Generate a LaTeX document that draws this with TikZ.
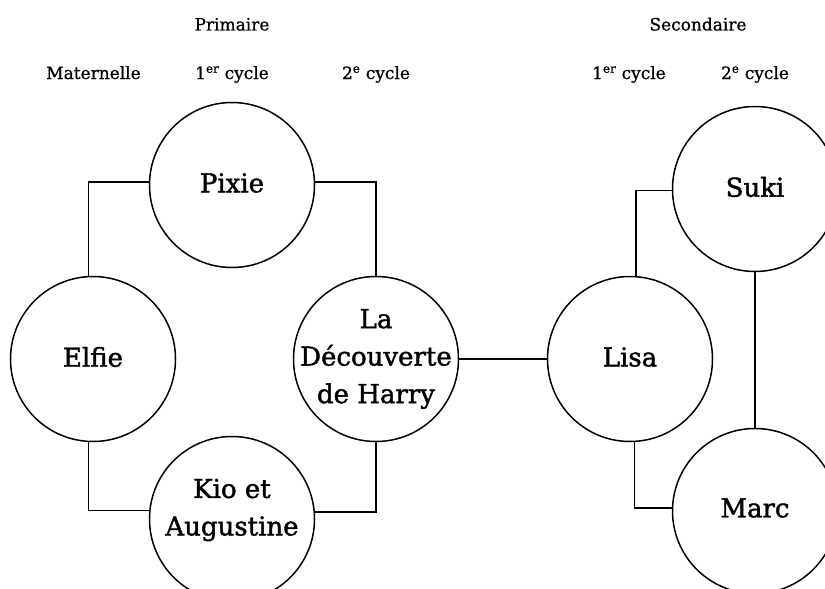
\documentclass[tikz,border=0pt]{standalone}
\usepackage{fontspec}
\setmainfont{DejaVu Serif}
\newfontfamily\heavyserif[FakeBold=1.5]{DejaVu Serif}
\newfontfamily\headserif[FakeBold=0.8]{DejaVu Serif}
\begin{document}
\begin{tikzpicture}[x=1pt,y=-1pt,
  book/.style={circle,draw,line width=1.5pt,minimum size=165pt,inner sep=0pt},
  booktext/.style={align=center,inner sep=0pt,font=\heavyserif\fontsize{26}{37.5}\selectfont},
  head/.style={anchor=base,inner sep=0pt,font=\headserif\fontsize{17}{20}\selectfont},
  link/.style={line width=1.5pt}]
\clip (0,0) rectangle (825,589);
% headings
\node[head] (prim) at (232,30.5) {Primaire};
\node[head] (sec) at (698,30.5) {Secondaire};
\node[head] (mat) at (93.5,79) {Maternelle};
\node[head] (p1) at (232,79) {1\textsuperscript{er} cycle};
\node[head] (p2) at (376,79) {2\textsuperscript{e} cycle};
\node[head] (s1) at (629,79) {1\textsuperscript{er} cycle};
\node[head] (s2) at (755,79) {2\textsuperscript{e} cycle};
% circles
\node[book] (pixie) at (232,185) {};
\node[book] (elfie) at (93,359) {};
\node[book] (kio) at (232,519) {};
\node[book] (decouv) at (376,359) {};
\node[book] (lisa) at (630,359) {};
\node[book] (suki) at (755,189) {};
\node[book] (marc) at (755,511) {};
% texts
\node[booktext] (pixietext) at (232,183) {Pixie};
\node[booktext] (elfietext) at (93,357) {Elfie};
\node[booktext] (kiotext) at (232,510) {Kio et\\Augustine};
\node[booktext] (decouvtext) at (376,359) {La\\Découverte\\de Harry};
\node[booktext] (lisatext) at (630,357) {Lisa};
\node[booktext] (sukitext) at (755,187) {Suki};
\node[booktext] (marctext) at (755,508) {Marc};
% connectors
\draw[link] (elfie.93) |- (pixie.178);
\draw[link] (pixie.2) -| (decouv.north);
\draw[link] (elfie.267) |- (kio.174.5);
\draw[link] (kio.5.5) -| (decouv.south);
\draw[link] (decouv.east) -- (lisa.west);
\draw[link] (lisa.86.5) |- (suki.181.5);
\draw[link] (lisa.273.5) |- (marc.178);
\draw[link] (suki.south) -- (marc.north);
\end{tikzpicture}
\end{document}
